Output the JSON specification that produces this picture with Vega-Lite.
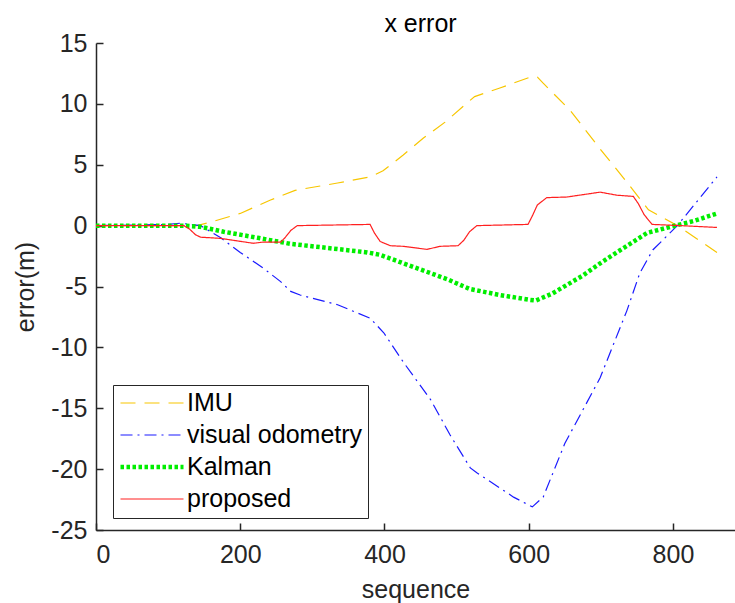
{
  "$schema": "https://vega.github.io/schema/vega-lite/v6.json",
  "width": 639,
  "height": 487,
  "autosize": {"type": "none"},
  "padding": {"left": 96, "top": 43, "right": 0, "bottom": 73},
  "background": "white",
  "title": {"text": "x error", "fontSize": 25, "font": "Liberation Sans", "fontWeight": "normal", "color": "#000000", "offset": -6, "dx": 5},
  "config": {
    "view": {"stroke": null},
    "font": "Liberation Sans",
    "axis": {
      "grid": false,
      "domainColor": "#262626",
      "domainWidth": 1.5,
      "tickColor": "#262626",
      "tickWidth": 1.5,
      "tickSize": -7,
      "labelFont": "Liberation Sans",
      "labelFontSize": 25,
      "labelColor": "#262626",
      "labelExpr": "'' + datum.value",
      "titleFont": "Liberation Sans",
      "titleFontSize": 25,
      "titleFontWeight": "normal",
      "titleColor": "#262626"
    },
    "legend": {
      "orient": "none",
      "legendX": 17,
      "legendY": 342,
      "strokeColor": "#262626",
      "fillColor": "white",
      "padding": 5.5,
      "rowPadding": 6,
      "labelFont": "Liberation Sans",
      "labelFontSize": 25,
      "labelColor": "#000000",
      "labelLimit": 400,
      "symbolSize": 100,
      "symbolType": "M-2.1,0H10.5",
      "labelOffset": 43.5,
      "title": null
    }
  },
  "data": {"values": [
    {"seq": 0, "err": 0, "s": "IMU"},
    {"seq": 140, "err": 0, "s": "IMU"},
    {"seq": 160, "err": 0.3, "s": "IMU"},
    {"seq": 200, "err": 1.0, "s": "IMU"},
    {"seq": 242, "err": 2.1, "s": "IMU"},
    {"seq": 276, "err": 2.9, "s": "IMU"},
    {"seq": 335, "err": 3.5, "s": "IMU"},
    {"seq": 380, "err": 4.0, "s": "IMU"},
    {"seq": 398, "err": 4.5, "s": "IMU"},
    {"seq": 426, "err": 5.8, "s": "IMU"},
    {"seq": 454, "err": 7.2, "s": "IMU"},
    {"seq": 484, "err": 8.5, "s": "IMU"},
    {"seq": 515, "err": 10.1, "s": "IMU"},
    {"seq": 525, "err": 10.6, "s": "IMU"},
    {"seq": 560, "err": 11.3, "s": "IMU"},
    {"seq": 602, "err": 12.2, "s": "IMU"},
    {"seq": 612, "err": 12.2, "s": "IMU"},
    {"seq": 620, "err": 11.7, "s": "IMU"},
    {"seq": 657, "err": 9.5, "s": "IMU"},
    {"seq": 699, "err": 6.3, "s": "IMU"},
    {"seq": 745, "err": 2.9, "s": "IMU"},
    {"seq": 766, "err": 1.3, "s": "IMU"},
    {"seq": 806, "err": 0.0, "s": "IMU"},
    {"seq": 861, "err": -2.2, "s": "IMU"},

    {"seq": 0, "err": 0, "s": "visual odometry"},
    {"seq": 60, "err": 0.05, "s": "visual odometry"},
    {"seq": 100, "err": 0.1, "s": "visual odometry"},
    {"seq": 117, "err": 0.2, "s": "visual odometry"},
    {"seq": 145, "err": 0.0, "s": "visual odometry"},
    {"seq": 173, "err": -1.0, "s": "visual odometry"},
    {"seq": 200, "err": -2.2, "s": "visual odometry"},
    {"seq": 232, "err": -3.5, "s": "visual odometry"},
    {"seq": 256, "err": -4.6, "s": "visual odometry"},
    {"seq": 270, "err": -5.4, "s": "visual odometry"},
    {"seq": 283, "err": -5.7, "s": "visual odometry"},
    {"seq": 335, "err": -6.5, "s": "visual odometry"},
    {"seq": 380, "err": -7.6, "s": "visual odometry"},
    {"seq": 399, "err": -8.8, "s": "visual odometry"},
    {"seq": 426, "err": -11.2, "s": "visual odometry"},
    {"seq": 464, "err": -14.3, "s": "visual odometry"},
    {"seq": 491, "err": -17.2, "s": "visual odometry"},
    {"seq": 519, "err": -19.9, "s": "visual odometry"},
    {"seq": 528, "err": -20.3, "s": "visual odometry"},
    {"seq": 579, "err": -22.3, "s": "visual odometry"},
    {"seq": 605, "err": -23.1, "s": "visual odometry"},
    {"seq": 620, "err": -22.3, "s": "visual odometry"},
    {"seq": 650, "err": -17.9, "s": "visual odometry"},
    {"seq": 699, "err": -12.5, "s": "visual odometry"},
    {"seq": 736, "err": -7.0, "s": "visual odometry"},
    {"seq": 754, "err": -3.9, "s": "visual odometry"},
    {"seq": 772, "err": -2.0, "s": "visual odometry"},
    {"seq": 806, "err": 0.0, "s": "visual odometry"},
    {"seq": 861, "err": 4.0, "s": "visual odometry"},

    {"seq": 0, "err": 0, "s": "Kalman"},
    {"seq": 122, "err": 0, "s": "Kalman"},
    {"seq": 145, "err": -0.1, "s": "Kalman"},
    {"seq": 177, "err": -0.5, "s": "Kalman"},
    {"seq": 224, "err": -1.0, "s": "Kalman"},
    {"seq": 270, "err": -1.5, "s": "Kalman"},
    {"seq": 316, "err": -1.8, "s": "Kalman"},
    {"seq": 376, "err": -2.2, "s": "Kalman"},
    {"seq": 394, "err": -2.4, "s": "Kalman"},
    {"seq": 431, "err": -3.2, "s": "Kalman"},
    {"seq": 487, "err": -4.4, "s": "Kalman"},
    {"seq": 518, "err": -5.2, "s": "Kalman"},
    {"seq": 560, "err": -5.7, "s": "Kalman"},
    {"seq": 602, "err": -6.1, "s": "Kalman"},
    {"seq": 610, "err": -6.15, "s": "Kalman"},
    {"seq": 632, "err": -5.6, "s": "Kalman"},
    {"seq": 675, "err": -4.1, "s": "Kalman"},
    {"seq": 699, "err": -3.1, "s": "Kalman"},
    {"seq": 722, "err": -2.2, "s": "Kalman"},
    {"seq": 764, "err": -0.6, "s": "Kalman"},
    {"seq": 800, "err": -0.05, "s": "Kalman"},
    {"seq": 830, "err": 0.4, "s": "Kalman"},
    {"seq": 861, "err": 1.0, "s": "Kalman"},

    {"seq": 0, "err": 0, "s": "proposed"},
    {"seq": 122, "err": 0, "s": "proposed"},
    {"seq": 130, "err": -0.3, "s": "proposed"},
    {"seq": 138, "err": -0.75, "s": "proposed"},
    {"seq": 145, "err": -0.95, "s": "proposed"},
    {"seq": 173, "err": -1.05, "s": "proposed"},
    {"seq": 218, "err": -1.45, "s": "proposed"},
    {"seq": 232, "err": -1.35, "s": "proposed"},
    {"seq": 256, "err": -1.35, "s": "proposed"},
    {"seq": 262, "err": -1.0, "s": "proposed"},
    {"seq": 270, "err": -0.4, "s": "proposed"},
    {"seq": 279, "err": 0, "s": "proposed"},
    {"seq": 380, "err": 0.1, "s": "proposed"},
    {"seq": 386, "err": -0.6, "s": "proposed"},
    {"seq": 394, "err": -1.3, "s": "proposed"},
    {"seq": 408, "err": -1.65, "s": "proposed"},
    {"seq": 426, "err": -1.7, "s": "proposed"},
    {"seq": 459, "err": -1.95, "s": "proposed"},
    {"seq": 477, "err": -1.7, "s": "proposed"},
    {"seq": 502, "err": -1.65, "s": "proposed"},
    {"seq": 510, "err": -1.2, "s": "proposed"},
    {"seq": 518, "err": -0.5, "s": "proposed"},
    {"seq": 528, "err": 0, "s": "proposed"},
    {"seq": 599, "err": 0.1, "s": "proposed"},
    {"seq": 605, "err": 0.8, "s": "proposed"},
    {"seq": 612, "err": 1.7, "s": "proposed"},
    {"seq": 625, "err": 2.3, "s": "proposed"},
    {"seq": 653, "err": 2.35, "s": "proposed"},
    {"seq": 699, "err": 2.75, "s": "proposed"},
    {"seq": 722, "err": 2.5, "s": "proposed"},
    {"seq": 745, "err": 2.4, "s": "proposed"},
    {"seq": 752, "err": 1.8, "s": "proposed"},
    {"seq": 760, "err": 0.9, "s": "proposed"},
    {"seq": 771, "err": 0.1, "s": "proposed"},
    {"seq": 810, "err": 0, "s": "proposed"},
    {"seq": 861, "err": -0.15, "s": "proposed"}
  ]},
  "mark": {"type": "line", "strokeCap": "butt", "clip": true},
  "encoding": {
    "x": {"field": "seq", "type": "quantitative", "title": "sequence",
      "scale": {"domain": [0, 886], "nice": false, "zero": false},
      "axis": {"values": [0, 200, 400, 600, 800], "labelPadding": 19, "titlePadding": 10}},
    "y": {"field": "err", "type": "quantitative", "title": "error(m)",
      "scale": {"domain": [-25, 15], "nice": false},
      "axis": {"values": [-25, -20, -15, -10, -5, 0, 5, 10, 15], "labelPadding": 16, "titlePadding": 12}},
    "color": {"field": "s", "type": "nominal",
      "scale": {"domain": ["IMU", "visual odometry", "Kalman", "proposed"], "range": ["#F7C600", "#1a1aff", "#00ee00", "#ff2020"]}},
    "strokeDash": {"field": "s", "type": "nominal",
      "scale": {"domain": ["IMU", "visual odometry", "Kalman", "proposed"], "range": [[15, 9], [12, 5, 2, 5], [3.5, 2.5], [1, 0]]}},
    "strokeWidth": {"field": "s", "type": "nominal",
      "scale": {"type": "ordinal", "domain": ["IMU", "visual odometry", "Kalman", "proposed"], "range": [1.2, 1.2, 4.5, 1.2]}},
    "order": {"field": "seq", "type": "quantitative"}
  }
}
